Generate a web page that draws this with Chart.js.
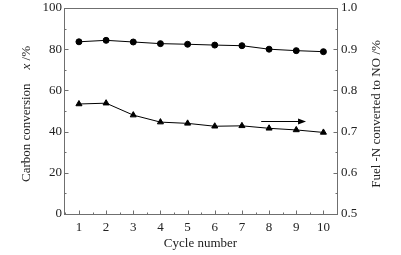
<!DOCTYPE html>
<html>
<head>
<meta charset="utf-8">
<script src="https://cdn.jsdelivr.net/npm/chart.js@4/dist/chart.umd.min.js"></script>
<style>
  html, body { margin: 0; padding: 0; background: #fff; }
  #wrap { width: 401px; height: 255px; }
</style>
</head>
<body>
<div id="wrap"><canvas id="chart" width="401" height="255"></canvas></div>
<script>
// cycle numbers on the x axis
const cycles = [1, 2, 3, 4, 5, 6, 7, 8, 9, 10];
// carbon conversion x /% (left axis, circles)
const carbonConversion = [83.6, 84.3, 83.5, 82.7, 82.4, 82.0, 81.7, 80.0, 79.3, 78.8];
// fuel-N converted to NO (right axis, triangles)
const fuelNtoNO = [0.767, 0.769, 0.740, 0.723, 0.720, 0.713, 0.714, 0.708, 0.704, 0.698];

const leftTicks = [0, 20, 40, 60, 80, 100];
const rightTicks = [0.5, 0.6, 0.7, 0.8, 0.9, 1.0];

// arrow pointing at the right axis, in data units (x, right y)
const arrowFrom = [7.71, 0.726];
const arrowTo = [9.36, 0.726];

const FONT = '"Liberation Serif", "DejaVu Serif", serif';
const TXT = '#222';
const AXIS = '#6f6f6f';

// frame, inward ticks, arrow and the axis titles
const decorations = {
  id: 'decorations',
  afterDraw(chart) {
    const { ctx, chartArea: a, scales } = chart;
    const L = Math.round(a.left) + 0.5, R = Math.round(a.right) + 0.5;
    const T = Math.round(a.top) + 0.5, B = Math.round(a.bottom) + 0.5;
    ctx.save();
    ctx.strokeStyle = AXIS;
    ctx.lineWidth = 1;
    ctx.strokeRect(L, T, R - L, B - T);

    const line = (x1, y1, x2, y2) => {
      ctx.beginPath(); ctx.moveTo(x1, y1); ctx.lineTo(x2, y2); ctx.stroke();
    };
    // x axis ticks, majors at each cycle, minors half way
    for (let v = 0.5; v <= 10.5; v += 0.5) {
      const px = Math.round(scales.x.getPixelForValue(v)) + 0.5;
      if (px < L || px > R) continue;
      line(px, B, px, B - (v % 1 === 0 ? 4 : 2));
    }
    // left axis ticks
    for (let v = 0; v <= 100; v += 10) {
      const py = Math.round(scales.y.getPixelForValue(v)) + 0.5;
      line(L, py, L + (v % 20 === 0 ? 4 : 2), py);
    }
    // right axis ticks
    for (let i = 0; i <= 10; i++) {
      const v = 0.5 + i * 0.05;
      const py = Math.round(scales.y1.getPixelForValue(v)) + 0.5;
      line(R, py, R - (i % 2 === 0 ? 4 : 2), py);
    }

    // arrow
    const ax1 = scales.x.getPixelForValue(arrowFrom[0]);
    const ax2 = scales.x.getPixelForValue(arrowTo[0]);
    const ay = Math.round(scales.y1.getPixelForValue(arrowFrom[1])) + 0.5;
    ctx.strokeStyle = '#000';
    ctx.fillStyle = '#000';
    line(ax1, ay, ax2 - 4, ay);
    ctx.beginPath();
    ctx.moveTo(ax2, ay);
    ctx.lineTo(ax2 - 8, ay - 3);
    ctx.lineTo(ax2 - 8, ay + 3);
    ctx.closePath();
    ctx.fill();

    // axis titles
    ctx.fillStyle = TXT;
    ctx.textBaseline = 'middle';
    ctx.textAlign = 'left';
    // left title, reads bottom to top
    ctx.save();
    ctx.translate(27, 114);
    ctx.rotate(-Math.PI / 2);
    const part1 = 'Carbon conversion', gap = 14, part2 = 'x', part3 = ' /%';
    ctx.font = '13px ' + FONT;
    const w1 = ctx.measureText(part1).width, w3 = ctx.measureText(part3).width;
    ctx.font = 'italic 13px ' + FONT;
    const w2 = ctx.measureText(part2).width;
    let x = -(w1 + gap + w2 + w3) / 2;
    ctx.font = '13px ' + FONT;
    ctx.fillText(part1, x, 0);
    x += w1 + gap;
    ctx.font = 'italic 13px ' + FONT;
    ctx.fillText(part2, x, 0);
    x += w2;
    ctx.font = '13px ' + FONT;
    ctx.fillText(part3, x, 0);
    ctx.restore();
    // right title, also reads bottom to top
    ctx.save();
    ctx.translate(377, 114);
    ctx.rotate(-Math.PI / 2);
    ctx.textAlign = 'center';
    ctx.font = '13px ' + FONT;
    ctx.fillText('Fuel -N converted to NO /%', 0, 0);
    ctx.restore();
    // x title
    ctx.textAlign = 'center';
    ctx.font = '13px ' + FONT;
    ctx.fillText('Cycle number', (a.left + a.right) / 2, 244);
    ctx.restore();
  }
};

const tickFont = { family: FONT, size: 13 };

// keep the plot box where the original has it
const fitY = s => { s.width = 64; s.paddingTop = 0; s.paddingBottom = 0; };
const fitX = s => { s.height = 41; s.paddingLeft = 0; s.paddingRight = 0; };

new Chart(document.getElementById('chart'), {
  type: 'line',
  data: {
    datasets: [
      {
        label: 'Carbon conversion',
        data: cycles.map((c, i) => ({ x: c, y: carbonConversion[i] })),
        yAxisID: 'y',
        borderColor: '#000',
        backgroundColor: '#000',
        borderWidth: 1,
        pointStyle: 'circle',
        pointRadius: 3,
        tension: 0
      },
      {
        label: 'Fuel-N to NO',
        data: cycles.map((c, i) => ({ x: c, y: fuelNtoNO[i] })),
        yAxisID: 'y1',
        borderColor: '#000',
        backgroundColor: '#000',
        borderWidth: 1,
        pointStyle: 'triangle',
        pointRadius: 3.5,
        tension: 0
      }
    ]
  },
  options: {
    responsive: false,
    animation: false,
    layout: { padding: { top: 8, left: 0, right: 0, bottom: 0 } },
    plugins: { legend: { display: false }, tooltip: { enabled: false } },
    scales: {
      x: {
        type: 'linear',
        min: 0.45,
        max: 10.5,
        afterBuildTicks: s => { s.ticks = cycles.map(v => ({ value: v })); },
        afterFit: fitX,
        grid: { display: false, drawTicks: false, tickLength: 0 },
        border: { display: false },
        ticks: { color: TXT, font: tickFont, padding: 6, maxRotation: 0 }
      },
      y: {
        position: 'left',
        min: 0,
        max: 100,
        afterBuildTicks: s => { s.ticks = leftTicks.map(v => ({ value: v })); },
        afterFit: fitY,
        grid: { display: false, drawTicks: false, tickLength: 0 },
        border: { display: false },
        ticks: { color: TXT, font: tickFont, padding: 2 }
      },
      y1: {
        position: 'right',
        min: 0.5,
        max: 1.0,
        afterBuildTicks: s => { s.ticks = rightTicks.map(v => ({ value: v })); },
        afterFit: fitY,
        grid: { display: false, drawTicks: false, tickLength: 0 },
        border: { display: false },
        ticks: { color: TXT, font: tickFont, padding: 4,
                 callback: v => v.toFixed(1) }
      }
    }
  },
  plugins: [decorations]
});
</script>
</body>
</html>
